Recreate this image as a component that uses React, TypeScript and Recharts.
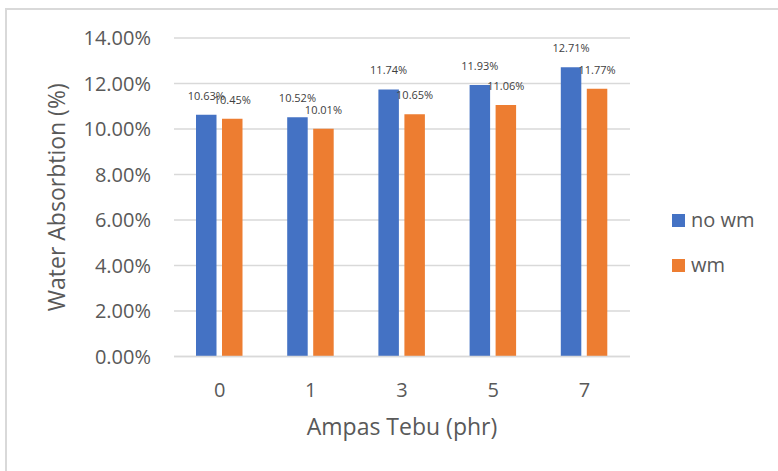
import React from "react";
import {
  BarChart,
  Bar,
  XAxis,
  YAxis,
  CartesianGrid,
  Legend,
  LabelList,
  Label,
} from "recharts";

// Ampas Tebu (phr) levels
const categories = ["0", "1", "3", "5", "7"];
// water absorption, percent
const noWm = [10.63, 10.52, 11.74, 11.93, 12.71];
const wm = [10.45, 10.01, 10.65, 11.06, 11.77];
const yTicks = [0, 2, 4, 6, 8, 10, 12, 14];

const FONT = "'Open Sans', 'Liberation Sans', sans-serif";
const TEXT = "#595959";
const GRID = "#d9d9d9";

const data = categories.map((c, i) => ({ cat: c, noWm: noWm[i], wm: wm[i] }));

const pct = (v: any) => `${Number(v).toFixed(2)}%`;

// vertical axis title, baseline sits at x = 65
const YTitle = ({ viewBox }: any) => {
  const cx = 65;
  const cy = viewBox.y + viewBox.height / 2;
  return (
    <text
      x={cx}
      y={cy}
      transform={`rotate(-90, ${cx}, ${cy})`}
      textAnchor="middle"
      fontSize={23}
      fontFamily={FONT}
      fill={TEXT}
    >
      Water Absorbtion (%)
    </text>
  );
};

const XTitle = ({ viewBox }: any) => {
  const cx = viewBox.x + viewBox.width / 2;
  return (
    <text x={cx} y={435} textAnchor="middle" fontSize={23} fontFamily={FONT} fill={TEXT}>
      Ampas Tebu (phr)
    </text>
  );
};

const LegendContent = ({ payload }: any) => (
  <div style={{ fontFamily: FONT }}>
    {(payload || []).map((entry: any) => (
      <div
        key={entry.value}
        style={{ display: "flex", alignItems: "center", height: 45 }}
      >
        <span
          style={{
            width: 13,
            height: 13,
            background: entry.color,
            display: "inline-block",
            marginRight: 6,
          }}
        />
        <span style={{ fontSize: 20, color: TEXT, lineHeight: "20px" }}>{entry.value}</span>
      </div>
    ))}
  </div>
);

export default function App() {
  return (
    <div
      style={{
        position: "absolute",
        left: 0,
        top: 0,
        width: 778,
        height: 471,
        overflow: "hidden",
        background: "#fff",
      }}
    >
      <div
        style={{
          position: "absolute",
          left: 5,
          top: 8,
          width: 780,
          height: 470,
          borderLeft: `2px solid ${GRID}`,
          borderTop: `2px solid ${GRID}`,
        }}
      />
      <div style={{ position: "absolute", left: 0, top: 0 }}>
        <BarChart
          width={778}
          height={471}
          data={data}
          margin={{ top: 38, right: 148, bottom: 84.5, left: 0 }}
          barGap={5.5}
          barSize={20.5}
        >
          <CartesianGrid vertical={false} stroke={GRID} strokeWidth={1.3} />
          <XAxis
            dataKey="cat"
            height={30}
            axisLine={{ stroke: GRID, strokeWidth: 1.5 }}
            tickLine={false}
            tickMargin={20}
            interval={0}
            tick={{ fontSize: 20, fontFamily: FONT, fill: TEXT }}
          >
            <Label content={<XTitle />} />
          </XAxis>
          <YAxis
            width={174}
            domain={[0, 14]}
            ticks={yTicks}
            tickFormatter={pct}
            axisLine={false}
            tickLine={false}
            tickMargin={17}
            tick={{ fontSize: 20, fontFamily: FONT, fill: TEXT }}
          >
            <Label content={<YTitle />} />
          </YAxis>
          <Legend
            layout="vertical"
            align="center"
            verticalAlign="middle"
            wrapperStyle={{ left: 672, top: 197.5, width: 100 }}
            content={<LegendContent />}
          />
          <Bar dataKey="noWm" name="no wm" fill="#4472C4" isAnimationActive={false}>
            <LabelList
              dataKey="noWm"
              position="top"
              offset={15}
              formatter={pct}
              style={{ fontSize: 11, fontFamily: FONT, fill: "#404040" }}
            />
          </Bar>
          <Bar dataKey="wm" name="wm" fill="#ED7D31" isAnimationActive={false}>
            <LabelList
              dataKey="wm"
              position="top"
              offset={15}
              formatter={pct}
              style={{ fontSize: 11, fontFamily: FONT, fill: "#404040" }}
            />
          </Bar>
        </BarChart>
      </div>
    </div>
  );
}
